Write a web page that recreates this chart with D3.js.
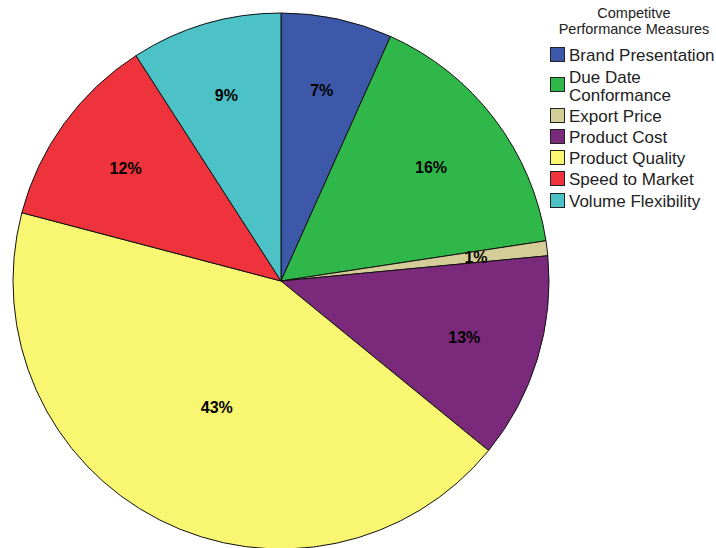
<!DOCTYPE html>
<html><head><meta charset="utf-8">
<script src="https://cdn.jsdelivr.net/npm/d3@7"></script>
<style>body{margin:0;background:#fff}svg{display:block}</style>
</head><body>
<script>
const categories = ["Brand Presentation","Due Date Conformance","Export Price","Product Cost","Product Quality","Speed to Market","Volume Flexibility"];
const legendLines = [["Brand Presentation"],["Due Date","Conformance"],["Export Price"],["Product Cost"],["Product Quality"],["Speed to Market"],["Volume Flexibility"]];
const values = [6.7, 15.9, 0.9, 12.4, 43.2, 11.8, 9.1];
const labels = ["7%","16%","1%","13%","43%","12%","9%"];
const colors = ["#3e58a9","#2fb849","#d5cd98","#7a297b","#f9f771","#ef333d","#4cc2c7"];
const legendTitle = ["Competitve","Performance Measures"];

const W = 716, H = 548;
const svg = d3.select("body").append("svg").attr("width", W).attr("height", H);
const cx = 281, cy = 281, R = 268;

const pie = d3.pie().sort(null).value(d => d)(values);
const arc = d3.arc().innerRadius(0).outerRadius(R);
const g = svg.append("g").attr("transform", `translate(${cx},${cy})`);

g.selectAll("path").data(pie).join("path")
  .attr("d", arc)
  .attr("fill", (d,i) => colors[i])
  .attr("stroke", "#111").attr("stroke-width", 1).attr("stroke-linejoin","round");

g.selectAll("text").data(pie).join("text")
  .attr("transform", d => {
    const th = d.endAngle - d.startAngle;
    const mid = (d.startAngle + d.endAngle) / 2;
    const rc = 1.1 * 4 * R * Math.sin(th/2) / (3 * th);
    return `translate(${rc*Math.sin(mid)},${-rc*Math.cos(mid)})`;
  })
  .attr("text-anchor","middle").attr("dy","0.36em")
  .attr("font-family","Arial, 'Liberation Sans', sans-serif")
  .attr("font-weight","bold").attr("font-size","16px").attr("fill","#000")
  .text((d,i) => labels[i]);

const lg = svg.append("g").attr("font-family","Arial, 'Liberation Sans', sans-serif");
lg.selectAll("text.title").data(legendTitle).join("text")
  .attr("class","title")
  .attr("x", 634).attr("y", (d,i) => 13 + i*16).attr("dy","0.36em")
  .attr("text-anchor","middle").attr("font-size","14.5px").attr("fill","#222")
  .text(d => d);

const rowY = [55, 77, 116, 137, 158, 179, 201];
const items = lg.selectAll("g.item").data(categories).join("g").attr("class","item");
items.append("rect")
  .attr("x", 550.5).attr("y", (d,i) => (i===1 ? 85 : rowY[i]) - 7.5)
  .attr("width", 14).attr("height", 14)
  .attr("fill", (d,i) => colors[i]).attr("stroke","#222").attr("stroke-width",1);
items.each(function(d,i){
  const sel = d3.select(this);
  legendLines[i].forEach((t,j) => {
    sel.append("text").attr("x", 569).attr("y", rowY[i] + j*18).attr("dy","0.36em")
      .attr("font-size","17px").attr("fill","#222").text(t);
  });
});
</script>
</body></html>
